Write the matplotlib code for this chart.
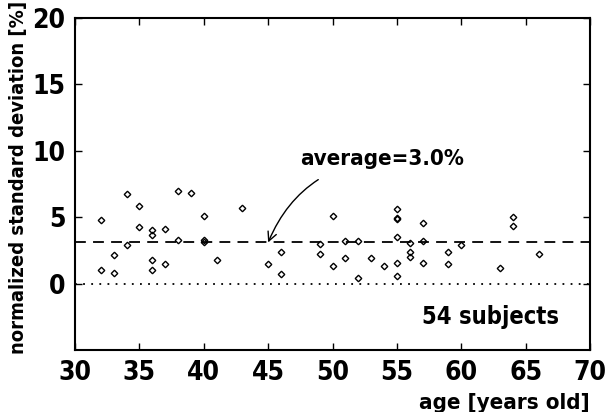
import numpy as np
import matplotlib
matplotlib.use("Agg")
import matplotlib.pyplot as plt

plt.rcParams['font.family'] = ['DejaVu Sans']
plt.rcParams['font.weight'] = 'bold'
plt.rcParams['font.stretch'] = 'condensed'

# ages and normalized std dev [%]
age = [32, 32, 33, 33, 34, 34, 35, 35, 36, 36, 36, 36, 37, 37, 38, 38, 39, 40, 40, 40,
       41, 43, 45, 46, 46, 49, 49, 50, 50, 51, 51, 52, 52, 53, 54, 55, 55, 55, 55, 55,
       55, 56, 56, 56, 57, 57, 57, 59, 59, 60, 63, 64, 64, 66]
nsd = [4.76, 1.0, 2.18, 0.8, 6.71, 2.88, 5.84, 4.26, 4.06, 3.68, 1.75, 1.05, 4.08, 1.45,
       6.94, 3.31, 6.81, 5.06, 3.26, 3.15, 1.75, 5.71, 1.5, 2.38, 0.7, 2.95, 2.25, 5.06,
       1.32, 3.2, 1.93, 3.2, 0.42, 1.93, 1.3, 5.59, 4.96, 4.9, 3.5, 1.58, 0.57, 3.08,
       2.38, 2.0, 4.56, 3.18, 1.58, 2.38, 1.5, 2.88, 1.2, 5.0, 4.3, 2.25]
avg_line = 3.1
xticks = [30, 35, 40, 45, 50, 55, 60, 65, 70]
yticks = [0, 5, 10, 15, 20]

fig = plt.figure(figsize=(6.08, 4.12), dpi=100)
ax = fig.add_axes([0.1234, 0.1505, 0.8470, 0.8058])

ax.plot(age, nsd, linestyle='none', marker='D', ms=3.3, mfc='none',
        mec='black', mew=1.0)

# average (dashed) and zero (dotted) reference lines
ax.axhline(avg_line, color='black', lw=1.3, linestyle=(0, (6, 4)))
ax.axhline(0, color='black', lw=1.3, linestyle=(0, (1, 3.5)))

ax.annotate('average=3.0%', xy=(45.0, avg_line), xytext=(47.5, 9.4),
            fontsize=16, fontweight='bold', va='center', ha='left',
            arrowprops=dict(arrowstyle='->', color='black', lw=1.0,
                            connectionstyle='arc3,rad=0.3',
                            shrinkA=12, shrinkB=0))
ax.text(62.3, -2.55, '54 subjects', fontsize=17, fontweight='bold',
        ha='center', va='center')

ax.set_xlim(30, 70)
ax.set_ylim(-5, 20)
ax.set_xticks(xticks)
ax.set_yticks(yticks)
ax.tick_params(direction='in', length=5, width=1, top=True, right=True,
               labelsize=19, pad=7)
ax.tick_params(axis='x', pad=7)
for s in ax.spines.values():
    s.set_linewidth(1.5)

ax.set_ylabel('normalized standard deviation [%]', fontsize=14.5,
              fontweight='bold')
ax.yaxis.set_label_coords(-0.092, 0.52)
fig.text(0.970, 0.022, 'age [years old]', fontsize=16, fontweight='bold',
         ha='right', va='center')

fig.savefig('out.png', dpi=100)
